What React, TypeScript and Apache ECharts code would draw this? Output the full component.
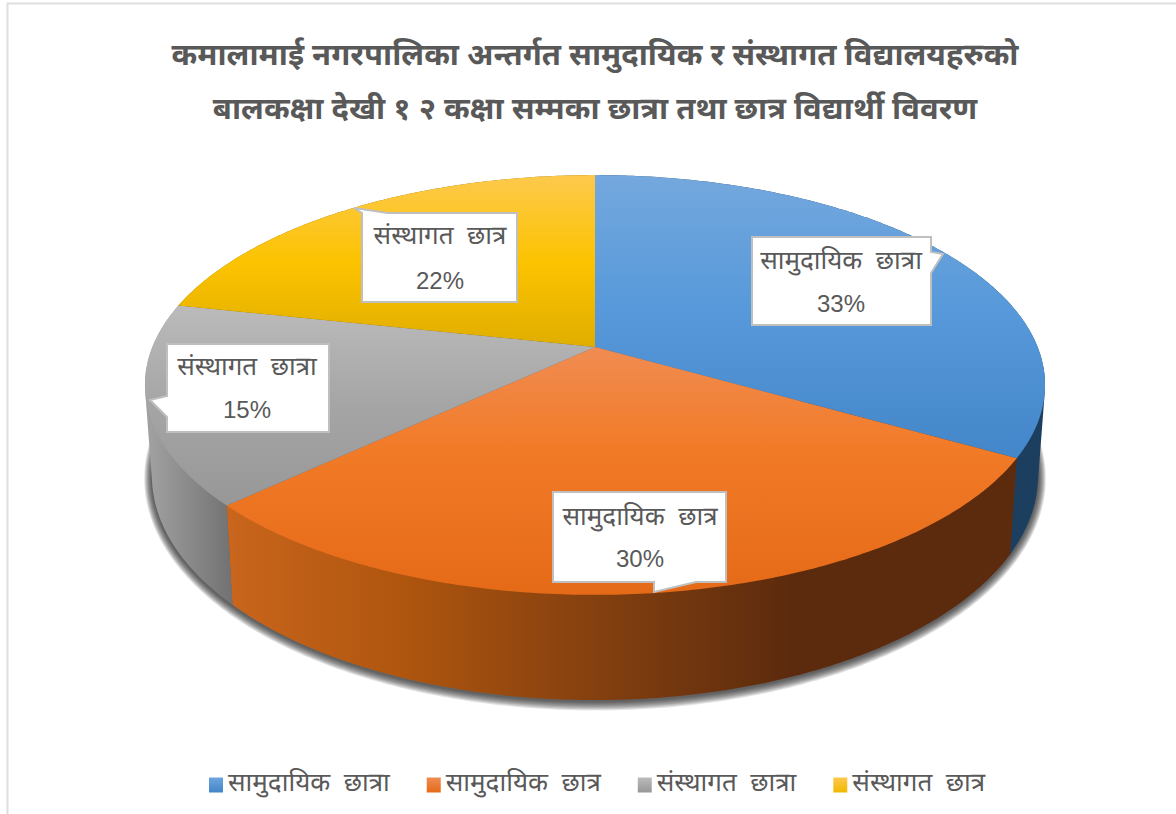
import React, { useEffect, useRef } from "react";
import * as echarts from "echarts";

const titleLines = [
  "कमालामाई नगरपालिका अन्तर्गत सामुदायिक र संस्थागत विद्यालयहरुको",
  "बालकक्षा देखी १ २ कक्षा सम्मका छात्रा तथा छात्र विद्यार्थी विवरण",
];
const categories = ["सामुदायिक  छात्रा", "सामुदायिक  छात्र", "संस्थागत  छात्रा", "संस्थागत  छात्र"];
const values = [33.3, 29.7, 15.4, 21.6];

const FONT = '"Noto Sans Devanagari", "Lohit Devanagari", "Mangal", "Noto Sans", "Liberation Sans", sans-serif';
const NUM_FONT = '"Liberation Sans", Arial, sans-serif';
const TXT = "#595959";

const total = values.reduce((a, b) => a + b, 0);
const starts: number[] = [];
values.reduce((acc, v, i) => {
  starts[i] = acc;
  return acc + v;
}, 0);
const angleOf = (pct: number) => (pct / total) * Math.PI * 2;

const P = 0.181;
const topFace = { cx: 595, cy: 347, a: 442.6, b: 203 };
const baseFace = { cx: 595, cy: 435.5, a: 435.7, b: 216.7 };
type Face = typeof topFace;
const project = (f: Face, t: number): number[] => {
  const u = Math.sin(t);
  const v = -Math.cos(t);
  const w = 1 - P * v;
  return [f.cx + (f.a * u) / w, f.cy + (f.b * v) / w];
};
const arc = (f: Face, t0: number, t1: number): number[][] => {
  const n = Math.max(8, Math.ceil(Math.abs(t1 - t0) * 90));
  const pts: number[][] = [];
  for (let k = 0; k <= n; k++) pts.push(project(f, t0 + ((t1 - t0) * k) / n));
  return pts;
};
// Convex outline of a slice's wall, so the silhouette follows the tangent between both rims
const hull = (input: number[][]): number[][] => {
  const pts = [...input].sort((p, q) => p[0] - q[0] || p[1] - q[1]);
  const cross = (o: number[], a: number[], b: number[]) =>
    (a[0] - o[0]) * (b[1] - o[1]) - (a[1] - o[1]) * (b[0] - o[0]);
  const half = (list: number[][]) => {
    const out: number[][] = [];
    for (const p of list) {
      while (out.length >= 2 && cross(out[out.length - 2], out[out.length - 1], p) <= 0) out.pop();
      out.push(p);
    }
    out.pop();
    return out;
  };
  return [...half(pts), ...half([...pts].reverse())];
};

const vGrad = (y0: number, y1: number, stops: [number, string][]) =>
  new echarts.graphic.LinearGradient(
    0, y0, 0, y1,
    stops.map(([offset, color]) => ({ offset, color })),
    true
  );
const hGrad = (x0: number, x1: number, stops: [number, string][]) =>
  new echarts.graphic.LinearGradient(
    x0, 0, x1, 0,
    stops.map(([offset, color]) => ({ offset, color })),
    true
  );

const topFills = [
  vGrad(175, 470, [[0, "#74a8de"], [0.45, "#5799da"], [1, "#4285c8"]]),
  vGrad(347, 595, [[0, "#f08c52"], [0.4, "#f27b28"], [1, "#e56a18"]]),
  vGrad(300, 510, [[0, "#bcbcbc"], [0.5, "#a5a5a5"], [1, "#979797"]]),
  vGrad(175, 350, [[0, "#fdc94c"], [0.5, "#fcc300"], [1, "#dfad00"]]),
];
const sideFills = [
  hGrad(1000, 1045, [[0, "#1c3f5f"], [1, "#1c3f5f"]]),
  hGrad(230, 790, [[0, "#c9651c"], [0.3, "#b0560f"], [0.65, "#84400f"], [1, "#5c2b0d"]]),
  hGrad(150, 235, [[0, "#a0a0a0"], [1, "#707070"]]),
  hGrad(150, 600, [[0, "#8a6a00"], [1, "#8a6a00"]]),
];
const legendColors = [
  ["#6ea6de", "#4285c8"],
  ["#f08c52", "#e56a18"],
  ["#bcbcbc", "#979797"],
  ["#fdc94c", "#f0b800"],
];

const callouts = [
  { box: [752, 237, 931, 325], side: "right", ptr: [[931, 252], [943, 254], [931, 273]], tx: 841, ty: 263, py: 303 },
  { box: [553, 492, 726, 582], side: "bottom", ptr: [[696, 582], [654, 592], [654, 582]], tx: 640, ty: 519, py: 558 },
  { box: [167, 344, 329, 432], side: "left", ptr: [[167, 417], [150, 400], [167, 396]], tx: 247, ty: 369, py: 409 },
  { box: [362, 213, 517, 302], side: "top", ptr: [[354, 208], [388, 213], [425, 213]], tx: 440, ty: 238, py: 280 },
];
const outline = (c: (typeof callouts)[number]) => {
  const [x0, y0, x1, y1] = c.box;
  if (c.side === "right") return [[x0, y0], [x1, y0], ...c.ptr, [x1, y1], [x0, y1]];
  if (c.side === "bottom") return [[x0, y0], [x1, y0], [x1, y1], ...c.ptr, [x0, y1]];
  if (c.side === "left") return [[x0, y0], [x1, y0], [x1, y1], [x0, y1], ...c.ptr];
  return [[x0, y0], ...c.ptr, [x1, y0], [x1, y1], [x0, y1]];
};

// Soft shadow under the drum: stacked translucent rims, widest first
const SHADOW_STEPS = [8, 7, 6, 5, 4, 3, 2, 1];

export default function App() {
  const ref = useRef<HTMLDivElement>(null);
  useEffect(() => {
    const chart = echarts.init(ref.current!, null, { renderer: "svg" });
    const ids = categories.map((c, i) => `${c}#${i}`);

    const shadowSeries = {
      type: "custom",
      name: "shadow",
      coordinateSystem: "none",
      silent: true,
      z: 1,
      data: [1],
      renderItem: () => ({
        type: "group",
        children: SHADOW_STEPS.map((k) => ({
          type: "polygon",
          shape: {
            points: arc(
              { cx: baseFace.cx, cy: baseFace.cy + 1, a: baseFace.a + k * 0.95, b: baseFace.b + k * 0.95 },
              0,
              Math.PI * 2
            ),
          },
          style: { fill: "rgba(20,20,20,0.13)" },
        })),
      }),
    };
    const sideSeries = {
      type: "custom",
      name: "sides",
      coordinateSystem: "none",
      silent: true,
      z: 2,
      data: values,
      renderItem: (params: any) => {
        const i = params.dataIndex;
        const t0 = angleOf(starts[i]);
        const t1 = angleOf(starts[i] + values[i]);
        return {
          type: "polygon",
          shape: { points: hull([...arc(topFace, t0, t1), ...arc(baseFace, t1, t0)]) },
          style: { fill: sideFills[i] },
        };
      },
    };
    const topSeries = values.map((v, i) => ({
      type: "custom",
      name: ids[i],
      coordinateSystem: "none",
      silent: true,
      z: 3,
      data: [{ name: ids[i], value: v }],
      itemStyle: { color: legendColors[i][0] },
      renderItem: () => {
        const t0 = angleOf(starts[i]);
        const t1 = angleOf(starts[i] + v);
        return {
          type: "polygon",
          shape: { points: [[topFace.cx, topFace.cy], ...arc(topFace, t0, t1)] },
          style: { fill: topFills[i] },
        };
      },
    }));
    const calloutSeries = {
      type: "custom",
      name: "callouts",
      coordinateSystem: "none",
      silent: true,
      z: 4,
      data: values,
      renderItem: (params: any) => {
        const i = params.dataIndex;
        const c = callouts[i];
        return {
          type: "group",
          children: [
            {
              type: "polygon",
              shape: { points: outline(c) },
              style: { fill: "#ffffff", stroke: "#bfbfbf", lineWidth: 2 },
            },
            {
              type: "text",
              style: {
                text: categories[i], x: c.tx, y: c.ty, align: "center", verticalAlign: "middle",
                fill: TXT, font: `26px ${FONT}`,
              },
            },
            {
              type: "text",
              style: {
                text: `${Math.round((values[i] / total) * 100)}%`, x: c.tx, y: c.py,
                align: "center", verticalAlign: "middle", fill: TXT, font: `24px ${NUM_FONT}`,
              },
            },
          ],
        };
      },
    };

    chart.setOption({
      animation: false,
      backgroundColor: "#ffffff",
      title: {
        text: titleLines.join("\n"),
        left: 590,
        top: 25,
        textAlign: "center",
        textStyle: { fontFamily: FONT, fontWeight: "bold", fontSize: 31, lineHeight: 54, color: TXT },
      },
      legend: {
        left: 204,
        top: 767,
        itemWidth: 14,
        itemHeight: 15,
        itemGap: 37,
        icon: "rect",
        selectedMode: false,
        formatter: (name: string) => name.split("#")[0],
        textStyle: { fontFamily: FONT, fontSize: 26, color: TXT },
        data: ids.map((id, i) => ({
          name: id,
          itemStyle: {
            color: new echarts.graphic.LinearGradient(0, 0, 0, 1, [
              { offset: 0, color: legendColors[i][0] },
              { offset: 1, color: legendColors[i][1] },
            ]),
          },
        })),
      },
      graphic: [
        {
          type: "rect",
          z: 0,
          silent: true,
          shape: { x: 7.5, y: 3.5, width: 1400, height: 1000 },
          style: { fill: "none", stroke: "#dedede", lineWidth: 2 },
        },
      ],
      series: [shadowSeries, sideSeries, ...topSeries, calloutSeries],
    });
    return () => chart.dispose();
  }, []);
  return <div ref={ref} style={{ position: "absolute", left: 0, top: 0, width: 1176, height: 814 }} />;
}
